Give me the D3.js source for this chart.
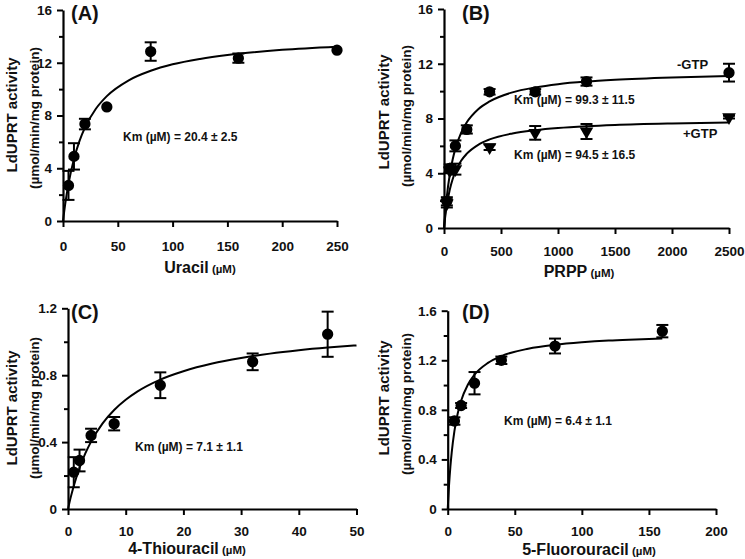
<!DOCTYPE html>
<html><head><meta charset="utf-8">
<script src="https://cdn.jsdelivr.net/npm/d3@7"></script>
<style>
body{margin:0;background:#fff;}
svg{display:block;font-family:Arial,"Liberation Sans",sans-serif;}
</style></head>
<body><svg id="c" width="745" height="559"></svg>
<script>
// ---- Panel A: Uracil ----
const uracilX = [5, 10, 20, 40, 80, 160, 250];
const uracilY = [2.7, 4.9, 7.35, 8.65, 12.85, 12.35, 12.95];
const uracilErr = [1.1, 1.0, 0.4, 0, 0.7, 0.35, 0];
const uracilFitX = [0, 2, 5, 10, 15, 20, 30, 40, 60, 80, 100, 125, 150, 200, 250];
const uracilFitY = [0, 1.28, 2.81, 4.70, 6.06, 7.08, 8.51, 9.47, 10.67, 11.39, 11.88, 12.29, 12.59, 12.98, 13.22];
const uracilXTicks = [0, 50, 100, 150, 200, 250];
const uracilYTicks = [0, 4, 8, 12, 16];

// ---- Panel B: PRPP ----
const prppX = [25, 50, 100, 200, 400, 800, 1250, 2500];
const minusGtpY = [1.95, 4.35, 6.0, 7.2, 9.95, 9.95, 10.7, 11.35];
const minusGtpErr = [0.3, 0.3, 0.4, 0.3, 0.2, 0.2, 0.3, 0.65];
const plusGtpX = [25, 50, 100, 400, 800, 1250, 2500];
const plusGtpY = [1.8, 4.2, 4.3, 5.9, 6.95, 7.05, 8.1];
const plusGtpErr = [0.3, 0.2, 0.4, 0.2, 0.5, 0.55, 0.1];
const prppFitX = [0, 10, 25, 50, 75, 100, 150, 200, 300, 400, 600, 800, 1000, 1250, 1500, 2000, 2500];
const minusGtpFitY = [0, 1.06, 2.32, 3.87, 4.97, 5.80, 6.95, 7.72, 8.68, 9.25, 9.91, 10.27, 10.51, 10.70, 10.83, 11.00, 11.11];
const plusGtpFitY = [0, 0.77, 1.67, 2.77, 3.54, 4.11, 4.91, 5.43, 6.08, 6.47, 6.91, 7.15, 7.31, 7.44, 7.53, 7.64, 7.71];
const prppXTicks = [0, 500, 1000, 1500, 2000, 2500];
const prppYTicks = [0, 4, 8, 12, 16];

// ---- Panel C: 4-Thiouracil ----
const thioX = [1, 2, 4, 8, 16, 32, 45];
const thioY = [0.22, 0.29, 0.44, 0.51, 0.74, 0.88, 1.045];
const thioErr = [0.09, 0.065, 0.04, 0.04, 0.077, 0.05, 0.135];
const thioFitX = [0, 0.5, 1, 2, 3, 4, 6, 8, 10, 12, 16, 20, 25, 30, 35, 40, 45, 50];
const thioFitY = [0, 0.074, 0.138, 0.245, 0.332, 0.403, 0.512, 0.592, 0.653, 0.702, 0.774, 0.824, 0.870, 0.903, 0.929, 0.949, 0.965, 0.978];
const thioXTicks = [0, 10, 20, 30, 40, 50];
const thioYTicks = [0, 0.4, 0.8, 1.2];

// ---- Panel D: 5-Fluorouracil ----
const fluoroX = [5, 10, 20, 40, 80, 160];
const fluoroY = [0.71, 0.835, 1.015, 1.2, 1.315, 1.435];
const fluoroErr = [0.03, 0.02, 0.09, 0.03, 0.06, 0.05];
const fluoroFitX = [0, 1, 2, 3, 5, 7.5, 10, 15, 20, 30, 40, 60, 80, 100, 120, 140, 160];
const fluoroFitY = [0, 0.193, 0.341, 0.457, 0.628, 0.772, 0.873, 1.003, 1.084, 1.179, 1.234, 1.293, 1.325, 1.345, 1.359, 1.368, 1.376];
const fluoroXTicks = [0, 50, 100, 150, 200];
const fluoroYTicks = [0, 0.4, 0.8, 1.2, 1.6];

const yTitle1 = "LdUPRT activity";
const yTitle2 = "(µmol/min/mg protein)";

const svg = d3.select("#c");

function panel(o) {
  const g = svg.append("g");
  const x = d3.scaleLinear().domain(o.xDomain).range(o.xRange);
  const y = d3.scaleLinear().domain(o.yDomain).range(o.yRange);

  // minor y ticks
  const minor = [];
  for (let i = 0; i < o.yTicks.length - 1; i++) minor.push((o.yTicks[i] + o.yTicks[i + 1]) / 2);
  g.append("g").attr("transform", `translate(${o.xRange[0]},0)`)
    .call(d3.axisLeft(y).tickValues(minor).tickSize(4).tickSizeOuter(0).tickFormat(""))
    .call(s => s.select(".domain").remove())
    .call(s => s.selectAll("line").attr("stroke-width", 2));
  const ya = g.append("g").attr("transform", `translate(${o.xRange[0]},0)`)
    .call(d3.axisLeft(y).tickValues(o.yTicks).tickSize(6).tickSizeOuter(0).tickPadding(5).tickFormat(o.yFmt));
  const xa = g.append("g").attr("transform", `translate(0,${o.yRange[0]})`)
    .call(d3.axisBottom(x).tickValues(o.xTicks).tickSize(6).tickSizeOuter(0).tickPadding(o.xPad).tickFormat(d3.format("d")));
  [ya, xa].forEach(a => {
    a.select(".domain").attr("stroke-width", 2.2);
    a.selectAll("line").attr("stroke-width", 2);
    a.selectAll("text").attr("font-size", 13.5).attr("font-weight", "bold")
      .attr("font-family", "Arial,'Liberation Sans',sans-serif").attr("fill", "#111");
  });

  // fit lines
  o.fits.forEach(f => {
    g.append("path")
      .datum(f.x.map((v, i) => [v, f.y[i]]))
      .attr("fill", "none").attr("stroke", "#000").attr("stroke-width", 2)
      .attr("d", d3.line().x(d => x(d[0])).y(d => y(d[1])).curve(d3.curveMonotoneX));
  });

  // points with error bars
  o.series.forEach(s => {
    const pts = s.x.map((v, i) => ({ x: v, y: s.y[i], e: s.e[i] }));
    const eb = g.append("g").selectAll("g").data(pts.filter(d => d.e > 0)).join("g");
    eb.append("line").attr("x1", d => x(d.x)).attr("x2", d => x(d.x))
      .attr("y1", d => y(d.y - d.e)).attr("y2", d => y(d.y + d.e))
      .attr("stroke", "#000").attr("stroke-width", 2);
    [-1, 1].forEach(sg => {
      eb.append("line").attr("x1", d => x(d.x) - 6).attr("x2", d => x(d.x) + 6)
        .attr("y1", d => y(d.y + sg * d.e)).attr("y2", d => y(d.y + sg * d.e))
        .attr("stroke", "#000").attr("stroke-width", 2);
    });
    const sym = s.shape === "tri"
      ? d3.symbol(d3.symbolTriangle, 80)
      : d3.symbol(d3.symbolCircle, 100);
    g.append("g").selectAll("path").data(pts).join("path")
      .attr("d", sym)
      .attr("transform", d => `translate(${x(d.x)},${y(d.y)})` + (s.shape === "tri" ? " rotate(180)" : ""))
      .attr("fill", "#000");
  });

  // panel label
  g.append("text").attr("x", o.label[1]).attr("y", o.label[2]).text(o.label[0])
    .attr("font-size", 20).attr("font-weight", "bold").attr("fill", "#111");

  // y title
  g.append("text").attr("transform", `translate(${o.yTitleX},${o.yTitleY[0]}) rotate(-90)`)
    .attr("text-anchor", "middle").attr("font-size", 15).attr("font-weight", "bold").attr("fill", "#111")
    .text(yTitle1);
  g.append("text").attr("transform", `translate(${o.yTitleX + 22},${o.yTitleY[1]}) rotate(-90)`)
    .attr("text-anchor", "middle").attr("font-size", 13.5).attr("font-weight", "bold").attr("fill", "#111")
    .text(yTitle2);

  // x title
  const xt = g.append("text").attr("x", o.xTitle[1]).attr("y", o.xTitle[2])
    .attr("text-anchor", "middle").attr("font-weight", "bold").attr("fill", "#111");
  xt.append("tspan").attr("font-size", 16).text(o.xTitle[0]);
  xt.append("tspan").attr("font-size", 11.5).text(" (µM)");

  // annotations
  o.notes.forEach(n => {
    g.append("text").attr("x", n[1]).attr("y", n[2]).text(n[0])
      .attr("font-size", n[3] || 12).attr("font-weight", "bold").attr("fill", "#111");
  });
}

const fmt0 = d3.format("d");
const fmt1 = d => d === 0 ? "0" : d3.format(".1f")(d);

panel({
  xDomain: [0, 250], xRange: [63, 337], yDomain: [0, 16], yRange: [221, 10],
  xTicks: uracilXTicks, yTicks: uracilYTicks, yFmt: fmt0, xPad: 14,
  fits: [{ x: uracilFitX, y: uracilFitY }],
  series: [{ x: uracilX, y: uracilY, e: uracilErr, shape: "circle" }],
  label: ["(A)", 71, 20], yTitleX: 17, yTitleY: [115, 118],
  xTitle: ["Uracil", 200, 273],
  notes: [["Km (µM) = 20.4 ± 2.5", 123, 141]]
});
panel({
  xDomain: [0, 2500], xRange: [444, 729], yDomain: [0, 16], yRange: [228, 9],
  xTicks: prppXTicks, yTicks: prppYTicks, yFmt: fmt0, xPad: 12,
  fits: [{ x: prppFitX, y: minusGtpFitY }, { x: prppFitX, y: plusGtpFitY }],
  series: [{ x: plusGtpX, y: plusGtpY, e: plusGtpErr, shape: "tri" },
           { x: prppX, y: minusGtpY, e: minusGtpErr, shape: "circle" }],
  label: ["(B)", 462, 20], yTitleX: 389, yTitleY: [112, 116],
  xTitle: ["PRPP", 579, 277],
  notes: [["Km (µM) = 99.3 ± 11.5", 514, 104], ["Km (µM) = 94.5 ± 16.5", 514, 159],
          ["-GTP", 677, 69, 13], ["+GTP", 683, 138, 13]]
});
panel({
  xDomain: [0, 50], xRange: [68, 356.5], yDomain: [0, 1.2], yRange: [509, 308.3],
  xTicks: thioXTicks, yTicks: thioYTicks, yFmt: fmt1, xPad: 11,
  fits: [{ x: thioFitX, y: thioFitY }],
  series: [{ x: thioX, y: thioY, e: thioErr, shape: "circle" }],
  label: ["(C)", 71, 319], yTitleX: 17, yTitleY: [408, 408],
  xTitle: ["4-Thiouracil", 187, 554],
  notes: [["Km (µM) = 7.1 ± 1.1", 135, 451]]
});
panel({
  xDomain: [0, 200], xRange: [447.7, 716], yDomain: [0, 1.6], yRange: [509, 310.7],
  xTicks: fluoroXTicks, yTicks: fluoroYTicks, yFmt: fmt1, xPad: 11,
  fits: [{ x: fluoroFitX, y: fluoroFitY }],
  series: [{ x: fluoroX, y: fluoroY, e: fluoroErr, shape: "circle" }],
  label: ["(D)", 462, 319], yTitleX: 389, yTitleY: [398, 404],
  xTitle: ["5-Fluorouracil", 589, 555],
  notes: [["Km (µM) = 6.4 ± 1.1", 504, 425]]
});
</script></body></html>
